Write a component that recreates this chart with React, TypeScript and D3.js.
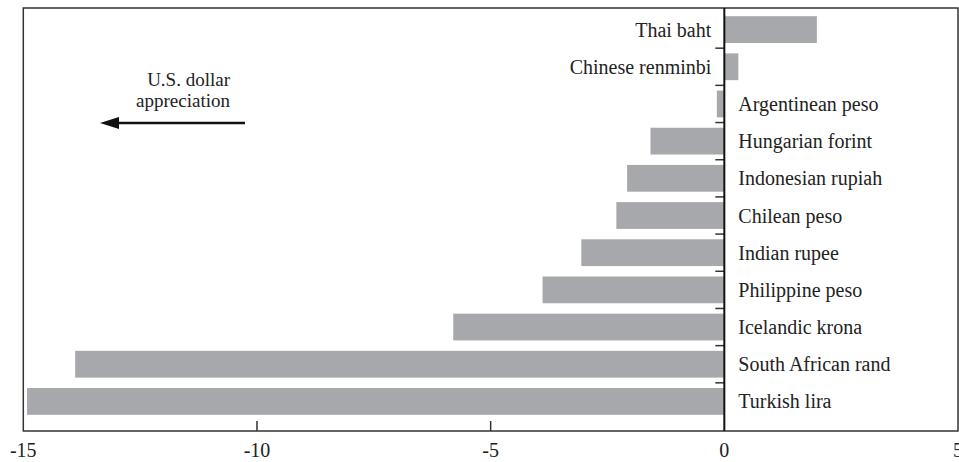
import React from "react";
import * as d3 from "d3";

const categories = [
  "Thai baht",
  "Chinese renminbi",
  "Argentinean peso",
  "Hungarian forint",
  "Indonesian rupiah",
  "Chilean peso",
  "Indian rupee",
  "Philippine peso",
  "Icelandic krona",
  "South African rand",
  "Turkish lira",
];
const values = [1.98, 0.3, -0.16, -1.58, -2.08, -2.31, -3.06, -3.89, -5.8, -13.89, -14.92];
const xTicks = [-15, -10, -5, 0, 5];
const xTickLabels = ["-15", "-10", "-5", "0", "5"];
const annotationLines = ["U.S. dollar", "appreciation"];

const W = 959;
const H = 462;
const frame = { left: 23.3, right: 958, top: 8, bottom: 431 };
const FONT = "'Liberation Serif', 'Times New Roman', serif";

export default function App() {
  const x = d3.scaleLinear().domain([-15, 5]).range([frame.left, frame.right]);
  const y = d3
    .scaleBand<string>()
    .domain(categories)
    .range([11, 420])
    .paddingInner(0.28)
    .paddingOuter(0.14);
  const step = y.step();
  const x0 = x(0);
  const boundaries = categories.slice(1).map((c) => (y(c) as number) - (step * y.paddingInner()) / 2);

  return (
    <svg
      width={W}
      height={H}
      style={{ position: "absolute", left: 0, top: 0, background: "#fff" }}
      fontFamily={FONT}
    >
      <rect x={0} y={0} width={W} height={H} fill="#fff" />
      {categories.map((c, i) => {
        const v = values[i];
        const x1 = x(Math.min(0, v));
        const x2 = x(Math.max(0, v));
        return (
          <rect
            key={c}
            x={x1}
            y={y(c)}
            width={x2 - x1}
            height={y.bandwidth()}
            fill="#a7a8ac"
          />
        );
      })}
      <rect
        x={frame.left}
        y={frame.top}
        width={frame.right - frame.left}
        height={frame.bottom - frame.top}
        fill="none"
        stroke="#333"
        strokeWidth={1.5}
      />
      {xTicks
        .filter((t) => t !== 0 && t !== -15 && t !== 5)
        .map((t) => (
          <line
            key={t}
            x1={x(t)}
            x2={x(t)}
            y1={frame.bottom}
            y2={frame.bottom - 10}
            stroke="#333"
            strokeWidth={1.5}
          />
        ))}
      {boundaries.map((b, i) => (
        <line key={i} x1={x0 - 9} x2={x0} y1={b} y2={b} stroke="#333" strokeWidth={1.5} />
      ))}
      <line x1={x0} x2={x0} y1={frame.top} y2={frame.bottom} stroke="#111" strokeWidth={2} />
      {xTicks.map((t, i) => (
        <text
          key={t}
          x={x(t)}
          y={456.5}
          textAnchor="middle"
          fontSize={20}
          fill="#222"
        >
          {xTickLabels[i]}
        </text>
      ))}
      {categories.map((c, i) => {
        const cy = (y(c) as number) + y.bandwidth() / 2;
        const pos = values[i] > 0;
        return (
          <text
            key={c}
            x={pos ? x0 - 13 : x0 + 14}
            y={cy + 7}
            textAnchor={pos ? "end" : "start"}
            fontSize={20}
            fill="#222"
          >
            {c}
          </text>
        );
      })}
      {annotationLines.map((l, i) => (
        <text key={l} x={230} y={86 + i * 21} textAnchor="end" fontSize={19} fill="#222">
          {l}
        </text>
      ))}
      <line x1={245} x2={114} y1={123} y2={123} stroke="#111" strokeWidth={2.6} />
      <path d="M100,123 L119,117 L119,129 Z" fill="#111" />
    </svg>
  );
}
